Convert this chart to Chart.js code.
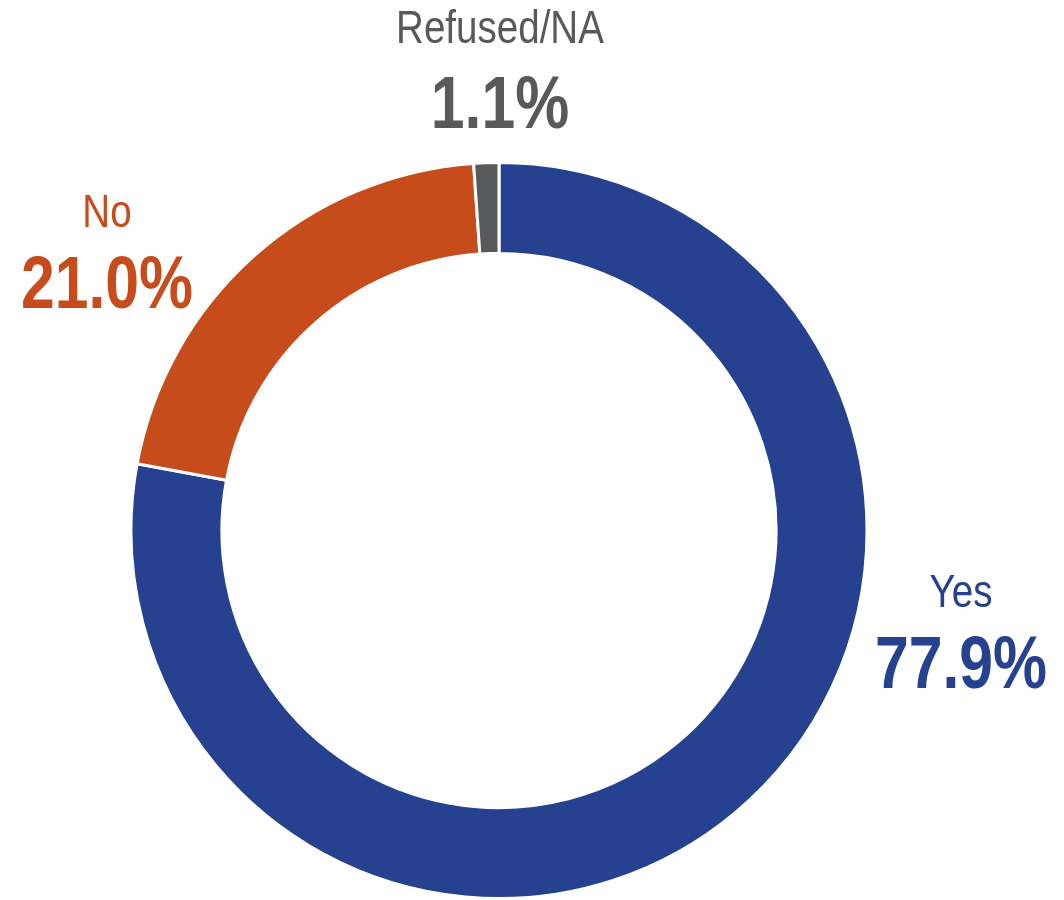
<!DOCTYPE html>
<html>
<head>
<meta charset="utf-8">
<script src="https://cdn.jsdelivr.net/npm/chart.js@4/dist/chart.umd.min.js"></script>
<style>
  html, body { margin: 0; padding: 0; background: #fff; }
  #wrap { width: 1064px; height: 900px; position: relative; }
</style>
</head>
<body>
<div id="wrap"><canvas id="donut"></canvas></div>
<script>
const labels = ['Yes', 'No', 'Refused/NA'];
const shares = [77.9, 21.0, 1.1];
const colors = ['#25418F', '#C64D1B', '#58595B'];
const labelColors = ['#25418F', '#C64D1B', '#58595B'];

// where each label block sits: centre x, baseline of name, baseline of value
const labelSpots = [
  { x: 961, nameY: 607, valueY: 688 },
  { x: 107, nameY: 227, valueY: 308 },
  { x: 500, nameY: 43, valueY: 128 }
];

const FONT = '"Liberation Sans", Arial, sans-serif';
const NARROW = 0.82; // squeeze text like Arial Narrow

const outsideLabels = {
  id: 'outsideLabels',
  afterDraw(chart) {
    const ctx = chart.ctx;
    labels.forEach((name, i) => {
      const s = labelSpots[i];
      ctx.save();
      ctx.translate(s.x, 0);
      ctx.scale(NARROW, 1);
      ctx.textAlign = 'center';
      ctx.textBaseline = 'alphabetic';
      ctx.fillStyle = labelColors[i];
      ctx.font = '47px ' + FONT;
      ctx.fillText(name, 0, s.nameY);
      ctx.font = 'bold 74px ' + FONT;
      ctx.fillText(shares[i].toFixed(1) + '%', 0, s.valueY);
      ctx.restore();
    });
  }
};

const ctx = document.getElementById('donut').getContext('2d');
const donut = new Chart(ctx, {
  type: 'doughnut',
  data: {
    labels: labels,
    datasets: [{
      data: shares,
      backgroundColor: colors,
      borderColor: '#ffffff',
      borderWidth: 3
    }]
  },
  options: {
    responsive: true,
    maintainAspectRatio: false,
    animation: false,
    cutout: '75.3%',
    layout: { padding: { top: 161, bottom: -5, left: 127, right: 193 } },
    plugins: {
      legend: { display: false },
      tooltip: { enabled: false }
    }
  },
  plugins: [outsideLabels]
});
</script>
</body>
</html>
